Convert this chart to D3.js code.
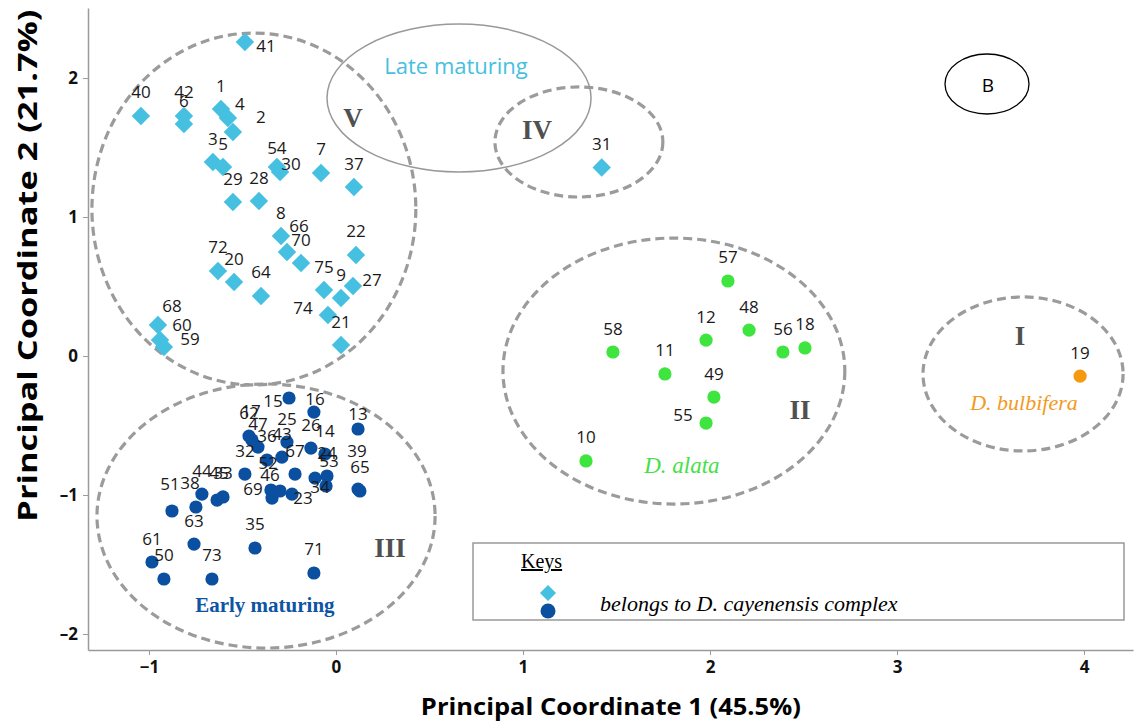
<!DOCTYPE html>
<html>
<head>
<meta charset="utf-8">
<script src="https://cdn.jsdelivr.net/npm/d3@7"></script>
<style>
	body { margin: 0; background: #fff; }
	svg { display: block; }
</style>
</head>
<body>
<div id="chart-area"></div>
<script>
const FWIDTH = 1135,
	FHEIGHT = 724;
const MARGIN = { LEFT: 88, RIGHT: 2, TOP: 8, BOTTOM: 74 };
const WIDTH = FWIDTH - (MARGIN.LEFT + MARGIN.RIGHT);
const HEIGHT = FHEIGHT - (MARGIN.TOP + MARGIN.BOTTOM);

const xTicks = [-1, 0, 1, 2, 3, 4];
const yTicks = [-2, -1, 0, 1, 2];

// [sample, PCo1, PCo2]
const lateMaturing = [
	[41, -0.487, 2.259], [40, -1.043, 1.727], [42, -0.813, 1.727], [6, -0.813, 1.669],
	[1, -0.615, 1.777], [4, -0.578, 1.712], [2, -0.551, 1.612], [3, -0.658, 1.396],
	[5, -0.604, 1.36], [29, -0.551, 1.108], [28, -0.412, 1.115], [54, -0.316, 1.36],
	[30, -0.299, 1.324], [7, -0.08, 1.317], [37, 0.096, 1.216], [8, -0.294, 0.863],
	[66, -0.262, 0.748], [70, -0.187, 0.669], [22, 0.107, 0.727], [72, -0.631, 0.612],
	[20, -0.545, 0.532], [64, -0.401, 0.432], [75, -0.064, 0.475], [9, 0.027, 0.417],
	[27, 0.091, 0.504], [74, -0.043, 0.295], [21, 0.027, 0.079], [68, -0.952, 0.223],
	[60, -0.941, 0.115], [59, -0.92, 0.065], [31, 1.421, 1.357],
];
const earlyMaturing = [
	[15, -0.251, -0.302], [16, -0.118, -0.403], [13, 0.118, -0.525], [62, -0.465, -0.576],
	[17, -0.449, -0.604], [47, -0.417, -0.655], [25, -0.262, -0.619], [43, -0.289, -0.727],
	[36, -0.369, -0.748], [26, -0.134, -0.662], [14, -0.059, -0.705], [24, -0.112, -0.878],
	[53, -0.048, -0.863], [34, -0.053, -0.935], [39, 0.118, -0.957], [65, 0.128, -0.971],
	[67, -0.219, -0.849], [52, -0.348, -0.964], [46, -0.299, -0.971], [69, -0.342, -1.022],
	[23, -0.235, -0.993], [32, -0.487, -0.849], [51, -0.877, -1.115], [38, -0.749, -1.086],
	[44, -0.717, -0.993], [45, -0.636, -1.036], [33, -0.604, -1.014], [63, -0.759, -1.353],
	[61, -0.984, -1.482], [50, -0.92, -1.604], [73, -0.663, -1.604], [35, -0.433, -1.381],
	[71, -0.118, -1.561],
];
const alata = [
	[57, 2.096, 0.54], [48, 2.209, 0.187], [12, 1.979, 0.115], [58, 1.481, 0.029],
	[56, 2.39, 0.029], [18, 2.508, 0.058], [11, 1.759, -0.129], [49, 2.021, -0.295],
	[55, 1.979, -0.482], [10, 1.337, -0.755],
];
const bulbifera = [[19, 3.979, -0.144]];

// label offsets (px) where the default one above the mark is not used
const labelNudge = {
	41: [21, 3], 4: [12, -15], 2: [28, -15], 30: [11, -9], 54: [0, -20], 66: [12, -27],
	27: [19, -6], 74: [-25, -8], 68: [14, -20], 60: [22, -16], 59: [26, -8],
	15: [-16, 2], 16: [1, -14], 13: [0, -16], 17: [-1, -29], 24: [12, -26], 53: [2, -15],
	34: [-6, 1], 39: [-1, -39], 52: [-3, -28], 46: [-10, -16], 69: [-19, -10], 23: [11, 3],
	51: [-2, -28], 38: [-6, -24], 45: [2, -28], 55: [-23, -9],
};

// cluster rings in data units: centre, radii
const rings = [
	{ cx: -0.439, cy: 1.058, rx: 0.866, ry: 1.266, dashed: true },
	{ cx: -0.374, cy: -1.151, rx: 0.904, ry: 0.95, dashed: true },
	{ cx: 1.807, cy: -0.108, rx: 0.914, ry: 0.957, dashed: true },
	{ cx: 3.674, cy: -0.129, rx: 0.535, ry: 0.554, dashed: true },
	{ cx: 1.299, cy: 1.54, rx: 0.449, ry: 0.396, dashed: true },
	{ cx: 0.658, cy: 1.856, rx: 0.706, ry: 0.532, dashed: false },
];
const ringNames = [
	{ t: "V", x: 0.091, y: 1.712 },
	{ t: "IV", x: 1.075, y: 1.626 },
	{ t: "III", x: 0.289, y: -1.381 },
	{ t: "II", x: 2.481, y: -0.388 },
	{ t: "I", x: 3.658, y: 0.144 },
];
const groupNames = [
	{ t: "Late maturing", x: 0.642, y: 2.094, color: "#45c0e0", font: "'Open Sans', sans-serif", size: 22, weight: "normal", italic: false },
	{ t: "Early maturing", x: -0.38, y: -1.791, color: "#0d55a3", font: "'Liberation Serif', serif", size: 21, weight: "bold", italic: false },
	{ t: "D. alata", x: 1.85, y: -0.784, color: "#44e044", font: "'Liberation Serif', serif", size: 23, weight: "normal", italic: true },
	{ t: "D. bulbifera", x: 3.679, y: -0.331, color: "#f39a1e", font: "'Liberation Serif', serif", size: 22, weight: "normal", italic: true },
];

const COL = { late: "#45c0e0", early: "#0b50a0", alata: "#3fe53f", bulb: "#f5990f" };

const svg = d3
	.select("#chart-area")
	.append("svg")
	.attr("width", FWIDTH)
	.attr("height", FHEIGHT);

const g = svg.append("g").attr("transform", `translate(${MARGIN.LEFT}, ${MARGIN.TOP})`);

const x = d3.scaleLinear().domain([-1.326, 4.262]).range([0, WIDTH]);
const y = d3.scaleLinear().domain([-2.115, 2.504]).range([HEIGHT, 0]);

// axes
const xAxis = g
	.append("g")
	.attr("transform", `translate(0, ${HEIGHT})`)
	.call(d3.axisBottom(x).tickValues(xTicks).tickFormat(d3.format("d")).tickSize(5).tickSizeOuter(0).tickPadding(6));
const yAxis = g
	.append("g")
	.call(d3.axisLeft(y).tickValues(yTicks).tickFormat((d) => (d < 0 ? "\u2013" + Math.abs(d) : d)).tickSize(5).tickSizeOuter(0).tickPadding(5));
[xAxis, yAxis].forEach((a) => {
	a.select(".domain").attr("stroke", "#9a9a9a").attr("stroke-width", 1.5);
	a.selectAll(".tick line").attr("stroke", "#9a9a9a").attr("stroke-width", 1);
	a.selectAll(".tick text")
		.attr("fill", "#111")
		.style("font-family", "'Open Sans', sans-serif")
		.style("font-weight", "bold")
		.style("font-size", "17px");
});

// axis titles
g.append("text")
	.attr("x", x(1.47))
	.attr("y", HEIGHT + 65)
	.attr("text-anchor", "middle")
	.attr("textLength", 380)
	.attr("lengthAdjust", "spacingAndGlyphs")
	.style("font-family", "'Open Sans', sans-serif")
	.style("font-weight", "bold")
	.style("font-size", "24px")
	.text("Principal Coordinate 1 (45.5%)");
g.append("text")
	.attr("transform", `translate(${-MARGIN.LEFT + 37}, ${y(0.65)}) rotate(-90)`)
	.attr("text-anchor", "middle")
	.attr("textLength", 512)
	.attr("lengthAdjust", "spacingAndGlyphs")
	.style("font-family", "'Open Sans', sans-serif")
	.style("font-weight", "bold")
	.style("font-size", "27px")
	.text("Principal Coordinate 2 (21.7%)");

// rings
g.append("g")
	.selectAll("ellipse")
	.data(rings)
	.enter()
	.append("ellipse")
	.attr("cx", (d) => x(d.cx))
	.attr("cy", (d) => y(d.cy))
	.attr("rx", (d) => x(d.cx + d.rx) - x(d.cx))
	.attr("ry", (d) => y(d.cy - d.ry) - y(d.cy))
	.attr("fill", "none")
	.attr("stroke", (d) => (d.dashed ? "#9b9b9b" : "#999"))
	.attr("stroke-width", (d) => (d.dashed ? 3.2 : 1.5))
	.attr("stroke-dasharray", (d) => (d.dashed ? "9,5" : null));

g.append("g")
	.selectAll("text")
	.data(ringNames)
	.enter()
	.append("text")
	.attr("x", (d) => x(d.x))
	.attr("y", (d) => y(d.y))
	.attr("text-anchor", "middle")
	.attr("dominant-baseline", "central")
	.attr("fill", "#505050")
	.style("font-family", "'Liberation Serif', serif")
	.style("font-weight", "bold")
	.style("font-size", "27px")
	.text((d) => d.t);

g.append("g")
	.selectAll("text")
	.data(groupNames)
	.enter()
	.append("text")
	.attr("x", (d) => x(d.x))
	.attr("y", (d) => y(d.y))
	.attr("text-anchor", "middle")
	.attr("dominant-baseline", "central")
	.attr("fill", (d) => d.color)
	.style("font-family", (d) => d.font)
	.style("font-weight", (d) => d.weight)
	.style("font-style", (d) => (d.italic ? "italic" : "normal"))
	.style("font-size", (d) => d.size + "px")
	.text((d) => d.t);

// points
const diamond = d3.symbol().type(d3.symbolSquare).size(170);
const dots = g.append("g");
dots.selectAll("path")
	.data(lateMaturing)
	.enter()
	.append("path")
	.attr("d", diamond)
	.attr("transform", (d) => `translate(${x(d[1])}, ${y(d[2])}) rotate(45)`)
	.attr("fill", COL.late);

const circleSets = [
	[earlyMaturing, COL.early],
	[alata, COL.alata],
	[bulbifera, COL.bulb],
];
circleSets.forEach(([set, color]) => {
	dots.append("g")
		.selectAll("circle")
		.data(set)
		.enter()
		.append("circle")
		.attr("cx", (d) => x(d[1]))
		.attr("cy", (d) => y(d[2]))
		.attr("r", 6.6)
		.attr("fill", color);
});

// sample labels
const allPoints = lateMaturing.concat(earlyMaturing, alata, bulbifera);
g.append("g")
	.selectAll("text")
	.data(allPoints)
	.enter()
	.append("text")
	.attr("x", (d) => x(d[1]) + (labelNudge[d[0]] || [0, -24])[0])
	.attr("y", (d) => y(d[2]) + (labelNudge[d[0]] || [0, -24])[1])
	.attr("text-anchor", "middle")
	.attr("dominant-baseline", "central")
	.attr("fill", "#1a1a1a")
	.style("font-family", "'Open Sans', sans-serif")
	.style("font-size", "17px")
	.text((d) => d[0]);

// panel letter
svg.append("ellipse")
	.attr("cx", 987)
	.attr("cy", 84)
	.attr("rx", 42)
	.attr("ry", 30)
	.attr("fill", "none")
	.attr("stroke", "#000")
	.attr("stroke-width", 1.3);
svg.append("text")
	.attr("x", 988)
	.attr("y", 85)
	.attr("text-anchor", "middle")
	.attr("dominant-baseline", "central")
	.style("font-family", "'Open Sans', sans-serif")
	.style("font-size", "19px")
	.text("B");

// legend
const legend = svg.append("g").attr("transform", "translate(473, 543)");
legend.append("rect")
	.attr("width", 651)
	.attr("height", 77)
	.attr("fill", "#fff")
	.attr("stroke", "#999")
	.attr("stroke-width", 1.5);
legend.append("text")
	.attr("x", 48)
	.attr("y", 25)
	.style("font-family", "'Liberation Serif', serif")
	.style("font-size", "20px")
	.style("text-decoration", "underline")
	.text("Keys");
legend.append("path")
	.attr("d", d3.symbol().type(d3.symbolSquare).size(130))
	.attr("transform", "translate(75, 50) rotate(45)")
	.attr("fill", COL.late);
legend.append("circle")
	.attr("cx", 75)
	.attr("cy", 68)
	.attr("r", 7.5)
	.attr("fill", COL.early);
legend.append("text")
	.attr("x", 127)
	.attr("y", 68)
	.style("font-family", "'Liberation Serif', serif")
	.style("font-style", "italic")
	.style("font-size", "22px")
	.text("belongs to D. cayenensis complex");
</script>
</body>
</html>
